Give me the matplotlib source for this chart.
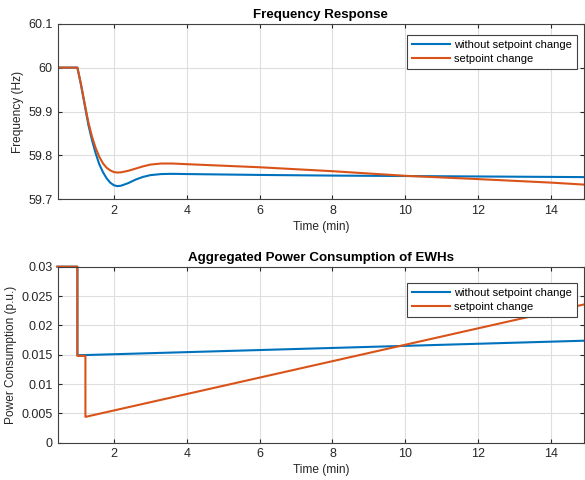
import matplotlib
matplotlib.use('Agg')
import matplotlib.pyplot as plt

plt.rcParams['font.family'] = ['Liberation Sans', 'DejaVu Sans']

# Frequency response (Hz) over time (min)
t_freq = [0.45, 1.0, 1.1, 1.2, 1.3, 1.4, 1.5, 1.6, 1.7, 1.8, 1.9, 2.0, 2.1, 2.2,
          2.4, 2.6, 2.8, 3.0, 3.3, 3.6, 4.0, 5.0, 6.0, 8.0, 10.0, 12.0, 14.0, 15.0]
freq_base = [60.0, 60.0, 59.96, 59.915, 59.87, 59.835, 59.805, 59.78, 59.762, 59.748,
             59.738, 59.732, 59.730, 59.731, 59.737, 59.745, 59.751, 59.755, 59.7575,
             59.758, 59.7575, 59.7565, 59.7555, 59.754, 59.753, 59.752, 59.751, 59.7505]
freq_sp = [60.0, 60.0, 59.962, 59.918, 59.876, 59.843, 59.817, 59.797, 59.782, 59.772,
           59.766, 59.762, 59.761, 59.7615, 59.765, 59.770, 59.775, 59.779, 59.7815,
           59.7815, 59.780, 59.7765, 59.773, 59.764, 59.7535, 59.746, 59.738, 59.733]

# Aggregated EWH power consumption (p.u.)
t_pow_base = [0.45, 1.0, 1.0, 15.0]
pow_base = [0.03, 0.03, 0.0149, 0.0174]
t_pow_sp = [0.45, 1.0, 1.0, 1.22, 1.22, 15.0]
pow_sp = [0.03, 0.03, 0.0148, 0.0148, 0.0044, 0.0237]

x_ticks = [2, 4, 6, 8, 10, 12, 14]
f_ticks = [59.7, 59.8, 59.9, 60.0, 60.1]
f_labels = ['59.7', '59.8', '59.9', '60', '60.1']
p_ticks = [0, 0.005, 0.01, 0.015, 0.02, 0.025, 0.03]
p_labels = ['0', '0.005', '0.01', '0.015', '0.02', '0.025', '0.03']

blue = '#0072BD'
orange = '#D95319'
dark = '#262626'

fig = plt.figure(figsize=(5.85, 4.8), dpi=100)
ax1 = fig.add_axes([0.0991, 0.5848, 0.899, 0.3658])
ax2 = fig.add_axes([0.0991, 0.0777, 0.899, 0.3667])


def style(ax, yt, yl, ylabel, title):
    ax.set_xlim(0.467, 14.9)
    ax.set_xticks(x_ticks)
    ax.set_xticklabels([str(v) for v in x_ticks])
    ax.set_yticks(yt)
    ax.set_yticklabels(yl)
    ax.set_ylim(yt[0], yt[-1])
    ax.grid(True, color='#dedede', linewidth=0.8)
    ax.set_axisbelow(True)
    ax.tick_params(direction='in', length=3, width=0.8, top=True, right=True,
                   labelsize=9, colors=dark, pad=4)
    for s in ax.spines.values():
        s.set_color('#404040')
        s.set_linewidth(0.8)
    ax.set_xlabel('Time (min)', fontsize=8.6, color=dark, labelpad=3)
    ax.set_ylabel(ylabel, fontsize=8.6, color=dark, labelpad=3)
    ax.set_title(title, fontsize=9.6, fontweight='bold', color='black', pad=4)


ax1.plot(t_freq, freq_base, color=blue, linewidth=1.5, label='without setpoint change')
ax1.plot(t_freq, freq_sp, color=orange, linewidth=1.5, label='setpoint change')
style(ax1, f_ticks, f_labels, 'Frequency (Hz)', 'Frequency Response')

ax2.plot(t_pow_base, pow_base, color=blue, linewidth=1.5, clip_on=False,
         label='without setpoint change')
ax2.plot(t_pow_sp, pow_sp, color=orange, linewidth=1.5, clip_on=False,
         label='setpoint change')
style(ax2, p_ticks, p_labels, 'Power Consumption (p.u.)',
      'Aggregated Power Consumption of EWHs')

for ax, ya in ((ax1, 0.936), (ax2, 0.907)):
    leg = ax.legend(loc='upper right', bbox_to_anchor=(0.987, ya), borderaxespad=0,
                    fontsize=8, fancybox=False, framealpha=1, edgecolor='#404040',
                    handlelength=3.4, handletextpad=0.4, borderpad=0.45,
                    labelspacing=0.35)
    leg.get_frame().set_linewidth(0.8)

plt.savefig('out.png', dpi=100)
